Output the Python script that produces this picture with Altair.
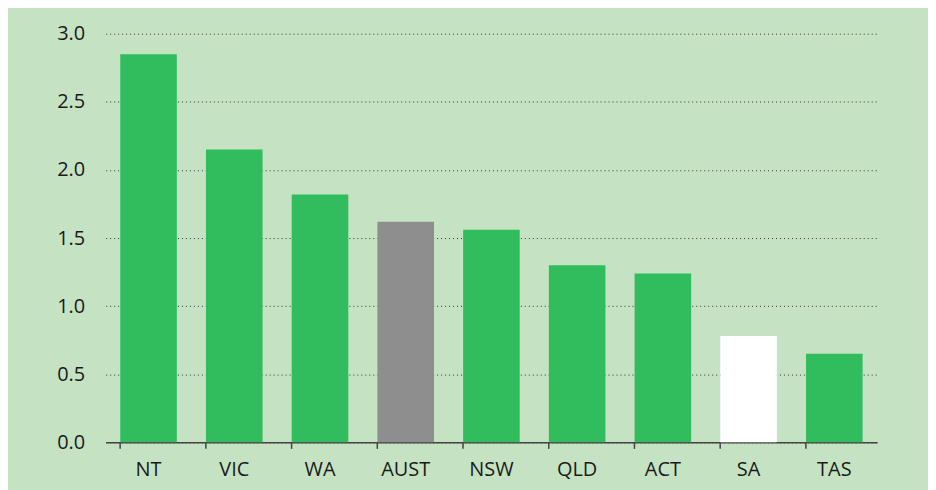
import altair as alt
import pandas as pd

states = ["NT", "VIC", "WA", "AUST", "NSW", "QLD", "ACT", "SA", "TAS"]
values = [2.85, 2.15, 1.82, 1.62, 1.56, 1.30, 1.24, 0.78, 0.65]
colors = ["#31bd5d", "#31bd5d", "#31bd5d", "#8e8e8e", "#31bd5d", "#31bd5d", "#31bd5d", "#ffffff", "#31bd5d"]

df = pd.DataFrame({"state": states, "value": values, "color": colors})

chart = alt.Chart(df).mark_bar().encode(
    x=alt.X("state:N", sort=states, title=None,
            scale=alt.Scale(paddingInner=0.34, paddingOuter=0.17),
            axis=alt.Axis(labelAngle=0, bandPosition=0, tickSize=6, labelPadding=11,
                          domainColor="#444444", tickColor="#444444", domainWidth=1.5, tickWidth=1.5,
                          labelFontSize=20, labelColor="#1a1a1a", labelFont="Open Sans", grid=False)),
    y=alt.Y("value:Q", title=None,
            scale=alt.Scale(domain=[0, 3]),
            axis=alt.Axis(values=[0, 0.5, 1, 1.5, 2, 2.5, 3], format=".1f", domain=False, ticks=False,
                          labelPadding=21, labelFontSize=20, labelColor="#1a1a1a", labelFont="Open Sans",
                          grid=True, gridColor="#333333", gridDash=[1, 3], gridWidth=1)),
    color=alt.Color("color:N", scale=None),
).properties(
    width=774, height=410,
    autosize=alt.AutoSizeParams(type="none"),
    padding={"left": 98, "top": 25, "right": 51, "bottom": 47},
).configure(
    background="#c5e3c2",
).configure_view(stroke=None)

chart.save("out.html", embed_options={"renderer": "svg", "actions": False})
